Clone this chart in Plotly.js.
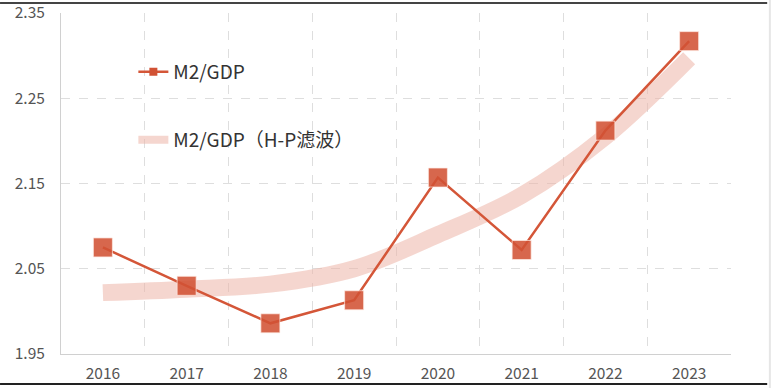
<!DOCTYPE html>
<html>
<head>
<meta charset="utf-8">
<script src="https://cdn.plot.ly/plotly-3.0.1.min.js"></script>
<style>html,body{margin:0;padding:0;background:#fff;}#chart{width:772px;height:390px;}</style>
</head>
<body>
<div id="chart"></div>
<script>
const years = ['2016','2017','2018','2019','2020','2021','2022','2023'];
const m2gdp = [2.075, 2.030, 1.986, 2.013, 2.157, 2.072, 2.212, 2.317];
const m2gdpHP = [2.022, 2.026, 2.032, 2.050, 2.090, 2.136, 2.205, 2.297];
const yTicks = [1.95, 2.05, 2.15, 2.25, 2.35];
const name1 = 'M2/GDP';
const name2 = 'M2/GDP（H-P滤波）';

const font = 'Noto Sans CJK SC, Noto Sans, sans-serif';

const traces = [
  {
    x: years, y: m2gdpHP, type: 'scatter', mode: 'lines', name: name2,
    line: {color: 'rgba(236,180,168,0.55)', width: 17, shape: 'spline', smoothing: 1},
    showlegend: false, hoverinfo: 'skip'
  },
  {
    x: years, y: m2gdp, type: 'scatter', mode: 'lines+markers', name: name1,
    line: {color: 'rgb(212,86,56)', width: 2.5},
    marker: {symbol: 'square', size: 19, color: 'rgba(209,82,52,0.88)', line: {color: 'rgba(255,235,228,0.7)', width: 1}},
    showlegend: false
  },
  {
    x: [null], y: [null], type: 'scatter', mode: 'lines+markers', name: name1,
    line: {color: 'rgb(212,86,56)', width: 2.5},
    marker: {symbol: 'square', size: 8, color: 'rgb(209,82,52)'},
    legend: 'legend'
  },
  {
    x: [null], y: [null], type: 'scatter', mode: 'lines', name: name2,
    line: {color: 'rgba(236,180,168,0.55)', width: 8},
    legend: 'legend2'
  }
];

const layout = {
  width: 772, height: 390,
  margin: {l: 61, r: 41, t: 13, b: 36},
  paper_bgcolor: '#fff', plot_bgcolor: '#fff',
  font: {family: font, size: 15, color: '#444'},
  xaxis: {
    type: 'category', tickson: 'boundaries',
    showgrid: true, gridcolor: '#dedede', griddash: 'dash', gridwidth: 1,
    showline: true, linecolor: '#d0d0d0', linewidth: 1,
    ticks: '', ticklabelstandoff: 5,
    tickfont: {family: font, size: 15.5, color: '#555'},
    range: [-0.5, 7.5], zeroline: false, fixedrange: true
  },
  yaxis: {
    range: [1.95, 2.35], tickvals: yTicks, ticktext: yTicks.map(v => v.toFixed(2)),
    showgrid: true, gridcolor: '#dedede', griddash: 'dash', gridwidth: 1,
    showline: true, linecolor: '#d0d0d0', linewidth: 1,
    ticks: '', ticklabelstandoff: 12,
    tickfont: {family: font, size: 15.5, color: '#555'},
    zeroline: false, fixedrange: true
  },
  showlegend: true,
  legend: {
    x: 0.108, xanchor: 'left', y: 0.827, yanchor: 'middle',
    bgcolor: 'rgba(0,0,0,0)', font: {family: font, size: 19, color: '#333'}
  },
  legend2: {
    x: 0.108, xanchor: 'left', y: 0.628, yanchor: 'middle',
    bgcolor: 'rgba(0,0,0,0)', font: {family: font, size: 19, color: '#333'}
  },
  shapes: [
    {type: 'line', xref: 'paper', yref: 'paper', x0: -0.091, x1: 1.054, y0: 1.029, y1: 1.029, line: {color: '#444', width: 2}},
    {type: 'line', xref: 'paper', yref: 'paper', x0: -0.091, x1: 1.054, y0: -0.088, y1: -0.088, line: {color: '#222', width: 2}},
    {type: 'line', xref: 'paper', yref: 'paper', x0: 1.058, x1: 1.058, y0: -0.1, y1: 1.05, line: {color: '#e6e6e6', width: 2}}
  ]
};

Plotly.newPlot('chart', traces, layout, {displayModeBar: false, staticPlot: true});
</script>
</body>
</html>
